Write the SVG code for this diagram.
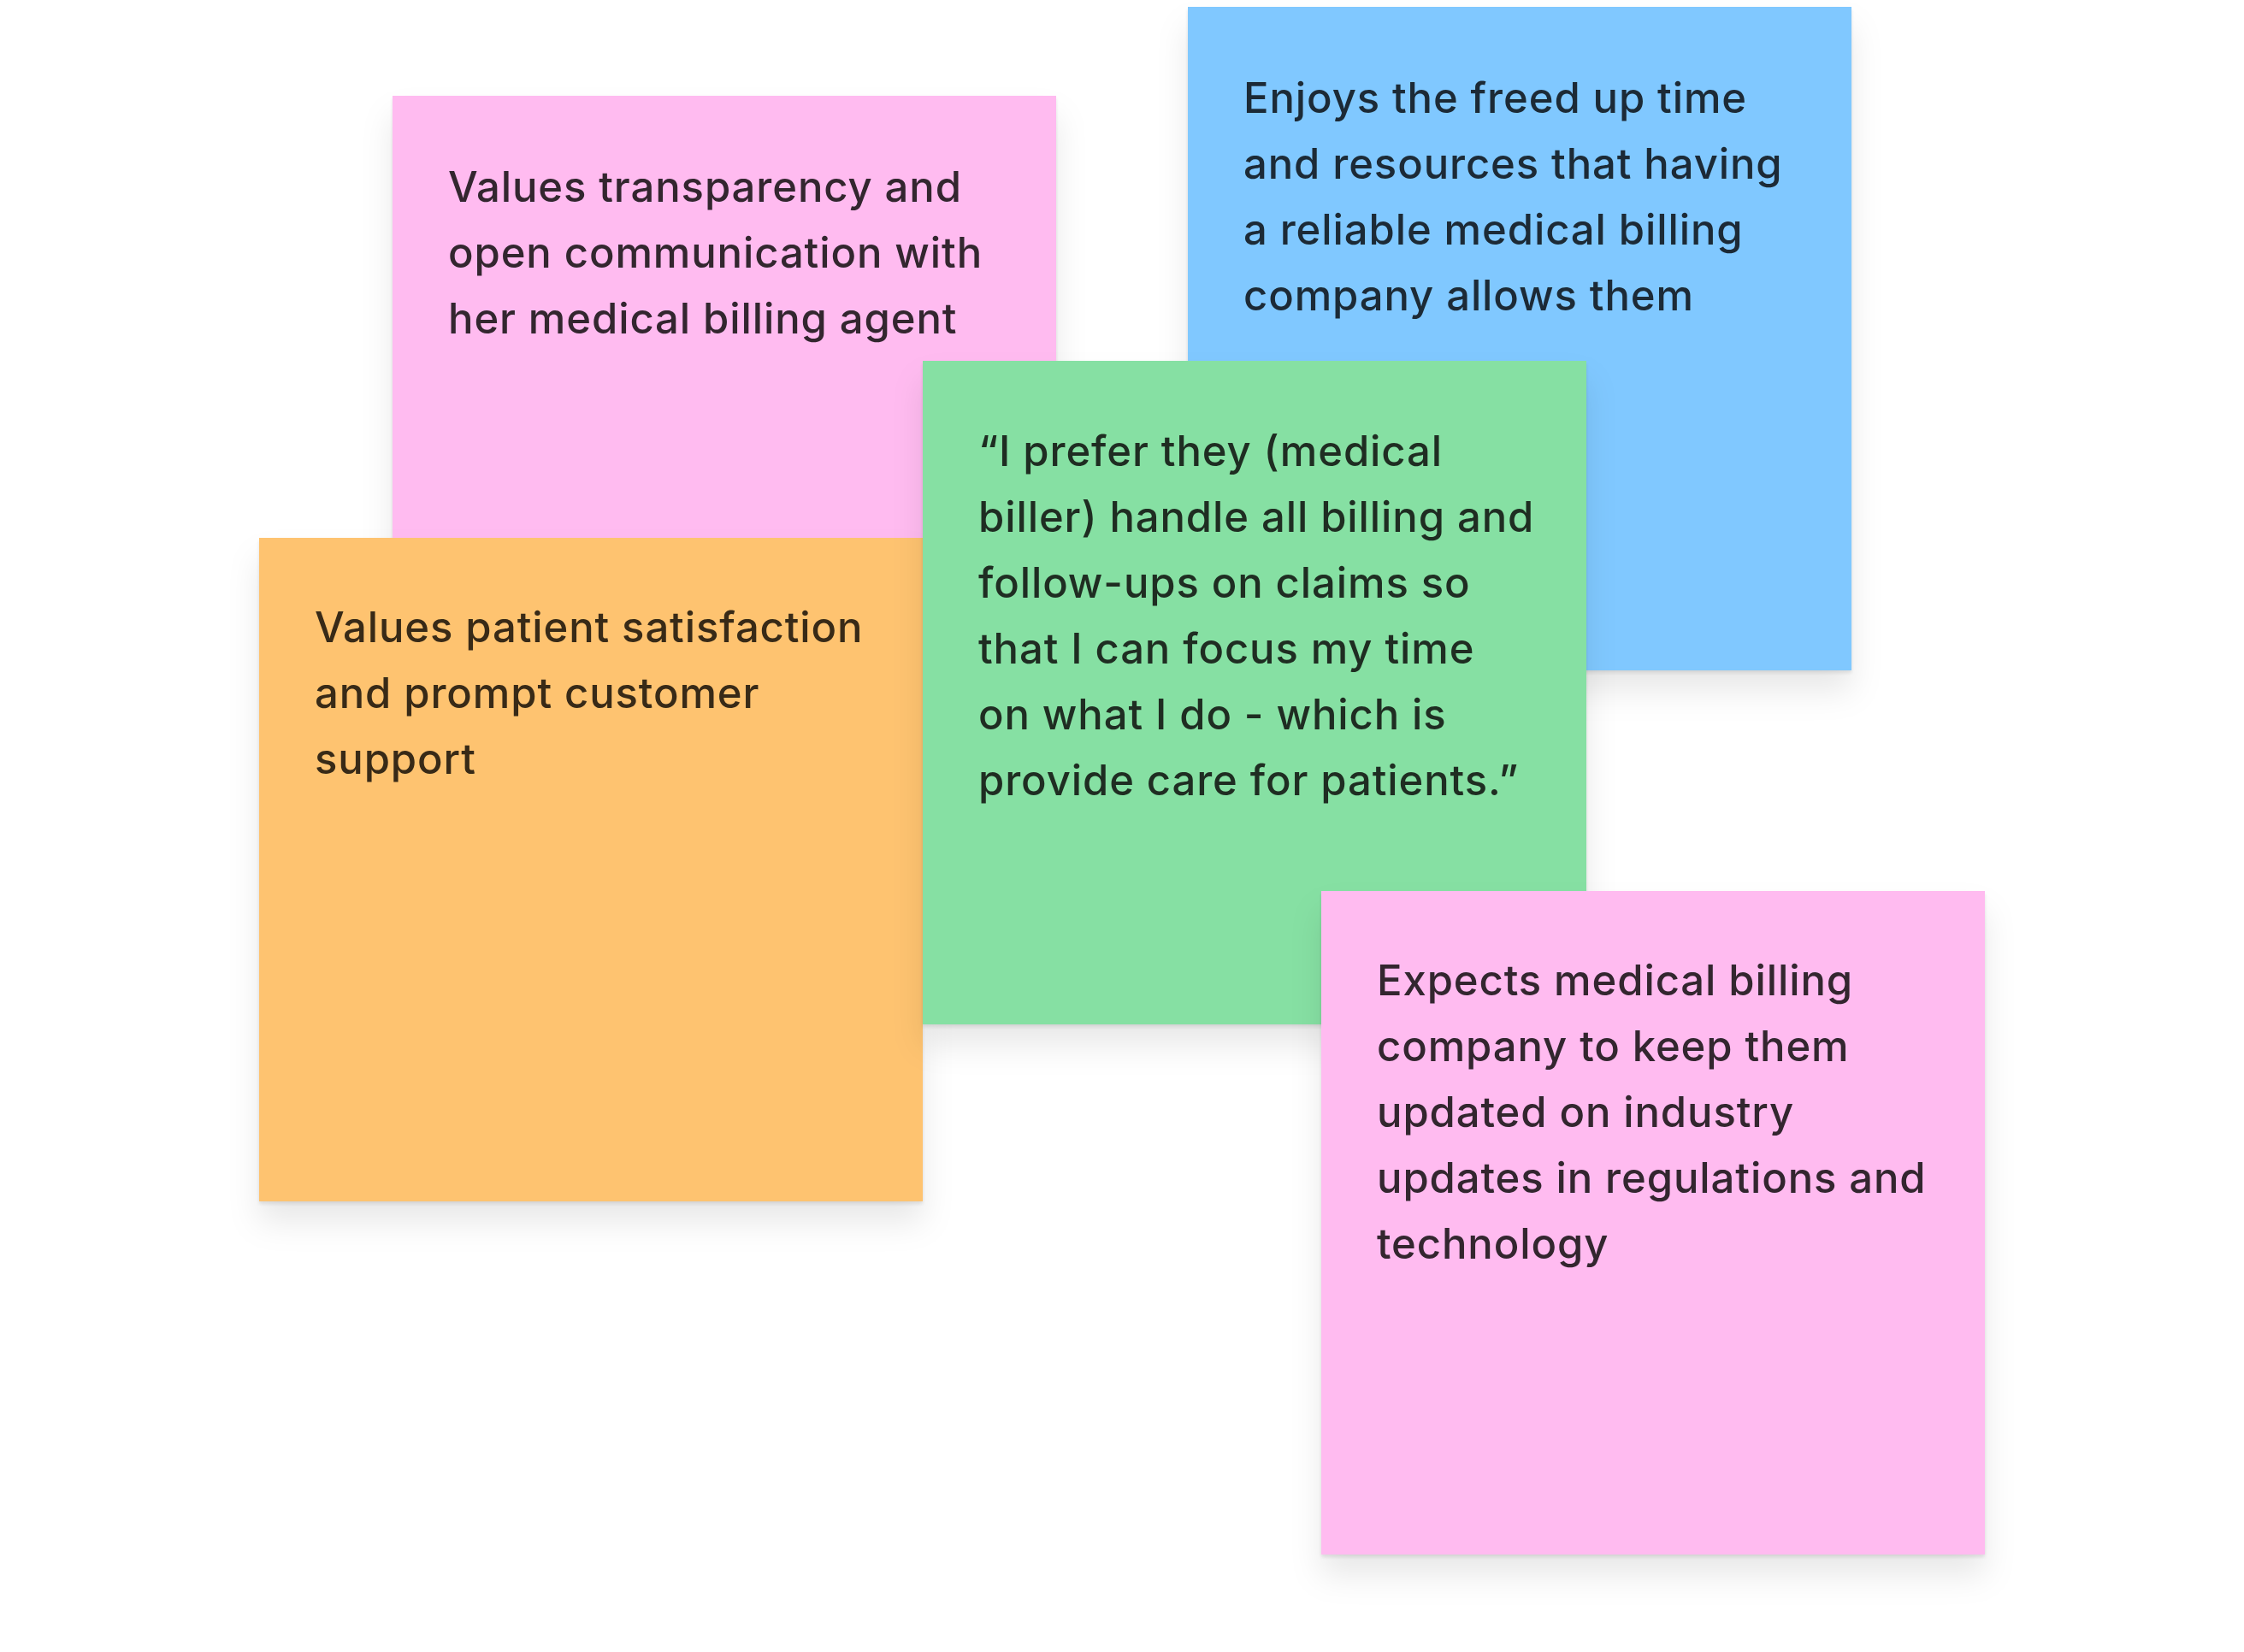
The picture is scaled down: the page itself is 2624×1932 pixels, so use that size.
<svg xmlns="http://www.w3.org/2000/svg" width="2624" height="1932" viewBox="0 0 2624 1932">
  <defs>
    <filter id="shadow" x="-10%" y="-10%" width="120%" height="125%">
      <feDropShadow dx="0" dy="3" stdDeviation="2" flood-color="#000" flood-opacity="0.10"/>
      <feDropShadow dx="0" dy="24" stdDeviation="18" flood-color="#000" flood-opacity="0.09"/>
    </filter>
  </defs>
  <style>
    .note { filter: url(#shadow); }
    .txt { font-family: Inter, "Noto Sans", "Liberation Sans", sans-serif; font-size: 49px; font-weight: 500; letter-spacing: 0.9px; }
    .pink { fill: #FFBBF0; }
    .blue { fill: #80C8FF; }
    .green { fill: #86E0A3; }
    .orange { fill: #FEC370; }
    .tpink { fill: #33262F; }
    .tblue { fill: #1C2A36; }
    .tgreen { fill: #1F2D22; }
    .torange { fill: #382A17; }
  </style>
  <rect width="2624" height="1932" fill="#FFFFFF"/>

  <g id="note-transparency">
    <rect class="note pink" x="459" y="112" width="776" height="776"/>
    <text class="txt tpink">
      <tspan x="524" y="236">Values transparency and</tspan>
      <tspan x="524" y="313">open communication with</tspan>
      <tspan x="524" y="390">her medical billing agent</tspan>
    </text>
  </g>

  <g id="note-freed-time">
    <rect class="note blue" x="1389" y="8" width="776" height="776"/>
    <text class="txt tblue">
      <tspan x="1454" y="132">Enjoys the freed up time</tspan>
      <tspan x="1454" y="209">and resources that having</tspan>
      <tspan x="1454" y="286">a reliable medical billing</tspan>
      <tspan x="1454" y="363">company allows them</tspan>
    </text>
  </g>

  <g id="note-patient-satisfaction">
    <rect class="note orange" x="303" y="629" width="776" height="776"/>
    <text class="txt torange">
      <tspan x="368" y="751">Values patient satisfaction</tspan>
      <tspan x="368" y="828">and prompt customer</tspan>
      <tspan x="368" y="905">support</tspan>
    </text>
  </g>

  <g id="note-quote">
    <rect class="note green" x="1079" y="422" width="776" height="776"/>
    <text class="txt tgreen">
      <tspan x="1144" y="545">“I prefer they (medical</tspan>
      <tspan x="1144" y="622">biller) handle all billing and</tspan>
      <tspan x="1144" y="699">follow-ups on claims so</tspan>
      <tspan x="1144" y="776">that I can focus my time</tspan>
      <tspan x="1144" y="853">on what I do - which is</tspan>
      <tspan x="1144" y="930">provide care for patients.”</tspan>
    </text>
  </g>

  <g id="note-industry-updates">
    <rect class="note pink" x="1545" y="1042" width="776" height="776"/>
    <text class="txt tpink">
      <tspan x="1610" y="1164">Expects medical billing</tspan>
      <tspan x="1610" y="1241">company to keep them</tspan>
      <tspan x="1610" y="1318">updated on industry</tspan>
      <tspan x="1610" y="1395">updates in regulations and</tspan>
      <tspan x="1610" y="1472">technology</tspan>
    </text>
  </g>

  <g id="connectors"/>
</svg>
